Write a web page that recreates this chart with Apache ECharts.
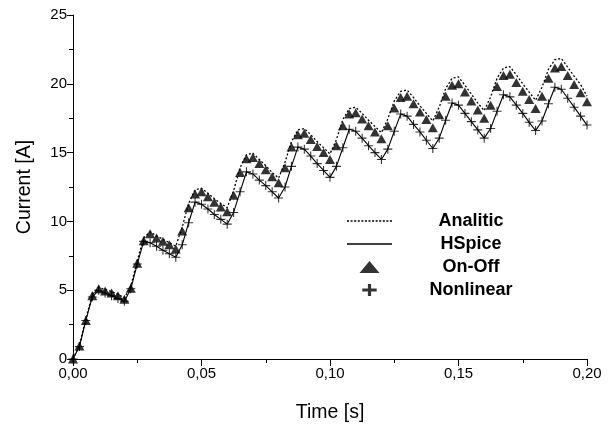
<!DOCTYPE html>
<html>
<head>
<meta charset="utf-8">
<script src="https://cdn.jsdelivr.net/npm/echarts@6/dist/echarts.min.js"></script>
<style>
  html, body { margin: 0; padding: 0; background: #fff; }
  #chart { width: 612px; height: 425px; }
</style>
</head>
<body>
<div id="chart"></div>
<script>
  // time step of the samples [s]
  const STEP = 0.0025
  const NPTS = 81

  // Current [A], one row per 20 ms period
  const analitic = [
    0, 1.0, 2.9, 4.7, 5.2, 5.05, 4.9, 4.7,
    4.45, 5.3, 7.15, 8.8, 9.25, 8.95, 8.7, 8.45,
    8.2, 9.6, 11.3, 12.3, 12.4, 12.05, 11.65, 11.3,
    11.0, 12.25, 13.9, 14.85, 14.95, 14.5, 14.05, 13.55,
    13.15, 14.3, 15.8, 16.65, 16.75, 16.3, 15.8, 15.35,
    14.9, 15.95, 17.4, 18.2, 18.3, 17.85, 17.35, 16.9,
    16.45, 17.45, 18.75, 19.45, 19.55, 19.0, 18.4, 17.85,
    17.3, 18.3, 19.65, 20.4, 20.5, 19.9, 19.25, 18.6,
    18.05, 19.05, 20.4, 21.15, 21.25, 20.65, 20.0, 19.4,
    18.8, 19.75, 21.05, 21.75, 21.85, 21.2, 20.55, 19.95,
    19.1
  ]
  const hspice = [
    0, 0.9, 2.8, 4.5, 5.0, 4.8, 4.6, 4.4,
    4.2, 5.1, 6.9, 8.55, 8.45, 8.2, 7.9, 7.65,
    7.4, 8.3, 9.9, 11.4, 11.25, 10.9, 10.5, 10.15,
    9.8, 10.65, 12.15, 13.6, 13.45, 13.0, 12.6, 12.15,
    11.7, 12.5, 14.0, 15.4, 15.25, 14.75, 14.2, 13.7,
    13.2, 14.0, 15.35, 16.7, 16.55, 16.05, 15.5, 15.0,
    14.5, 15.25, 16.55, 17.8, 17.65, 17.05, 16.5, 15.9,
    15.3, 16.05, 17.35, 18.6, 18.45, 17.85, 17.25, 16.65,
    16.05, 16.75, 18.0, 19.2, 19.05, 18.45, 17.85, 17.2,
    16.6, 17.3, 18.55, 19.75, 19.6, 18.95, 18.3, 17.65,
    17.0
  ]
  const onOff = [
    0, 0.95, 2.8, 4.6, 5.1, 4.95, 4.8, 4.6,
    4.35, 5.15, 6.95, 8.6, 9.1, 8.8, 8.55, 8.3,
    8.0, 9.3, 11.0, 12.0, 12.15, 11.8, 11.4, 11.05,
    10.7, 11.9, 13.55, 14.55, 14.65, 14.2, 13.75, 13.25,
    12.8, 13.9, 15.4, 16.3, 16.4, 15.95, 15.45, 15.0,
    14.5, 15.5, 16.95, 17.8, 17.9, 17.45, 16.95, 16.5,
    16.0, 16.95, 18.25, 19.0, 19.1, 18.55, 17.95, 17.4,
    16.8, 17.75, 19.1, 19.9, 20.0, 19.4, 18.75, 18.1,
    17.5, 18.45, 19.8, 20.6, 20.7, 20.1, 19.45, 18.85,
    18.2, 19.1, 20.4, 21.15, 21.25, 20.6, 19.95, 19.35,
    18.7
  ]
  // the plus markers sit on the HSpice curve
  const nonlinear = hspice.slice()

  const times = []
  for (let i = 0; i < NPTS; i++) times.push(+(i * STEP).toFixed(4))
  const pairs = arr => times.map((t, i) => [t, arr[i]])

  const FONT = 'Liberation Sans'
  const thinPlus = 'path://M4.4,0H5.6V4.4H10V5.6H5.6V10H4.4V5.6H0V4.4H4.4Z'
  const boldPlus = 'path://M7,0H11V5.5H18V9.5H11V15H7V9.5H0V5.5H7Z'
  const legendTri = 'path://M10,0L20,12H0Z'
  const legendSolid = 'path://M0,0H45V1.3H0Z'
  // short dashes for the dotted legend sample
  let dashPath = 'path://'
  for (let x = 0; x < 45; x += 3.5) dashPath += 'M' + x + ',0H' + (x + 2) + 'V1.6H' + x + 'Z'

  const chart = echarts.init(document.getElementById('chart'))
  const option = {
    backgroundColor: '#fff',
    animation: false,
    grid: { left: 73, right: 25, top: 15, bottom: 66, outerBoundsMode: 'none', containLabel: false },
    legend: {
      left: 347,
      top: 212,
      orient: 'vertical',
      padding: 0,
      itemWidth: 45,
      itemHeight: 12,
      itemGap: 5,
      data: [
        { name: 'Analitic', icon: dashPath },
        { name: 'HSpice', icon: legendSolid },
        { name: 'On-Off', icon: legendTri },
        { name: 'Nonlinear', icon: boldPlus }
      ],
      formatter: '{c|{name}}',
      textStyle: {
        rich: {
          c: {
            width: 148,
            align: 'center',
            lineHeight: 12,
            fontFamily: FONT,
            fontSize: 18,
            fontWeight: 'bold',
            color: '#000'
          }
        }
      }
    },
    xAxis: {
      type: 'value',
      min: 0,
      max: 0.2,
      interval: 0.05,
      name: 'Time [s]',
      nameLocation: 'middle',
      nameGap: 44,
      nameTextStyle: { fontFamily: FONT, fontSize: 19.5, color: '#000' },
      axisLine: { lineStyle: { color: '#000', width: 1 } },
      axisTick: { length: 7, lineStyle: { color: '#000' } },
      minorTick: { show: true, splitNumber: 2, length: 4, lineStyle: { color: '#000' } },
      splitLine: { show: false },
      axisLabel: {
        margin: 7,
        fontFamily: FONT,
        fontSize: 15,
        color: '#000',
        formatter: v => v.toFixed(2).replace('.', ',')
      }
    },
    yAxis: {
      type: 'value',
      min: 0,
      max: 25,
      interval: 5,
      name: 'Current [A]',
      nameLocation: 'middle',
      nameGap: 38,
      nameTextStyle: { fontFamily: FONT, fontSize: 19.5, color: '#000' },
      axisLine: { show: true, lineStyle: { color: '#000', width: 1 } },
      axisTick: { show: true, length: 6, lineStyle: { color: '#000' } },
      minorTick: { show: true, splitNumber: 2, length: 4, lineStyle: { color: '#000' } },
      splitLine: { show: false },
      axisLabel: { margin: 6, fontFamily: FONT, fontSize: 15, color: '#000' }
    },
    series: [
      {
        name: 'Analitic',
        type: 'line',
        symbol: 'none',
        clip: false,
        lineStyle: { color: '#000', width: 1.3, type: [2, 2] },
        itemStyle: { color: '#000' },
        data: pairs(analitic)
      },
      {
        name: 'HSpice',
        type: 'line',
        symbol: 'none',
        clip: false,
        lineStyle: { color: '#000', width: 1.1 },
        itemStyle: { color: '#000' },
        data: pairs(hspice)
      },
      {
        name: 'On-Off',
        type: 'scatter',
        symbol: 'triangle',
        symbolSize: [10, 9],
        clip: false,
        itemStyle: { color: '#000' },
        data: pairs(onOff)
      },
      {
        name: 'Nonlinear',
        type: 'scatter',
        symbol: thinPlus,
        symbolSize: 9,
        clip: false,
        itemStyle: { color: '#000' },
        data: pairs(nonlinear)
      }
    ]
  }
  chart.setOption(option)
</script>
</body>
</html>
